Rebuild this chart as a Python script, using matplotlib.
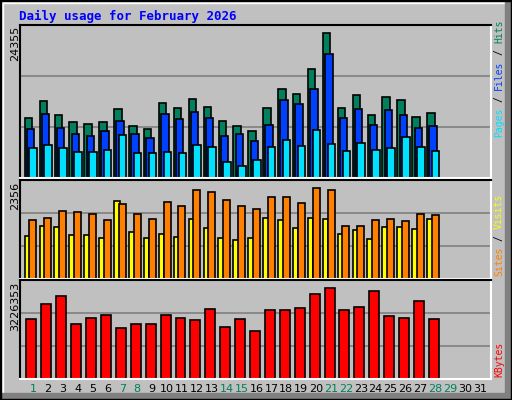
import matplotlib
matplotlib.use("Agg")
import matplotlib.pyplot as plt
from matplotlib.patches import Rectangle

days = list(range(1, 32))
ndata = 28
hits = [9770,12650,10250,9130,8810,9130,11370,8490,8010,12330,11530,12970,11690,9290,8490,7690,11530,14580,13780,17940,23700,11530,13610,10250,13290,12810,9930,10730]
files = [8010,10570,8170,7210,6890,7690,9290,7210,6570,10570,9610,10890,9770,6890,7210,6090,8650,12810,12170,14580,20340,9770,11370,8650,11210,10250,8170,8490]
pages = [4970,5450,4970,4330,4330,4650,7050,4170,4170,4330,4170,5450,5130,2560,1920,2880,5130,6250,5290,7850,5610,4490,5770,4650,4970,6730,5130,4490]
sites = [1071,1309,1285,1095,1095,1023,1928,1166,1023,1119,1047,1476,1261,1023,976,1023,1499,1452,1261,1499,1476,1119,1214,1000,1285,1285,1238,1476]
visits = [1452,1499,1690,1666,1618,1452,1856,1618,1476,1904,1809,2213,2142,1952,1809,1737,2023,2023,1880,2261,2213,1309,1309,1452,1476,1428,1618,1595]
kb_h = [62,78,86,57,63,67,53,57,57,67,63,61,73,54,62,50,72,72,74,88,95,72,75,92,66,63,81,62]
kbytes = [h * 32590 for h in kb_h]
max_hits, max_visits, max_kb = 24355, 2356, 3226353
weekend = {1,7,8,14,15,21,22,28,29}

W, H = 512, 400
fig = plt.figure(figsize=(W/100, H/100), dpi=100, facecolor="#c0c0c0")

def ax_px(x0, y0, x1, y1):
    return fig.add_axes([x0/W, 1-y1/H, (x1-x0)/W, (y1-y0)/H])

bg = fig.add_axes([0, 0, 1, 1]); bg.set_xlim(0, W); bg.set_ylim(H, 0); bg.axis("off")
bg.add_patch(Rectangle((0, 0), W, 3, color="white"))
bg.add_patch(Rectangle((0, 0), 3, H, color="white"))
bg.add_patch(Rectangle((505, 0), 7, H, color="#808080"))
bg.add_patch(Rectangle((0, 393), W, 7, color="#808080"))
bg.add_patch(Rectangle((0, 0), W, 1, color="black"))
bg.add_patch(Rectangle((0, 0), 1, H, color="black"))
bg.add_patch(Rectangle((W-1, 0), 1, H, color="black"))
bg.add_patch(Rectangle((0, H-1), W, 1, color="black"))
bg.text(19, 16, "Daily usage for February 2026", color="#0000ff", fontsize=9,
        fontweight="bold", family="DejaVu Sans Mono", va="center", ha="left")

xl = (0.133, 31.73)

def style(ax, ymax):
    ax.set_facecolor("#c0c0c0")
    ax.set_xlim(*xl); ax.set_ylim(0, ymax)
    ax.set_xticks([]); ax.set_yticks([])
    for s in ("top", "left"):
        ax.spines[s].set_color("black"); ax.spines[s].set_linewidth(1.5)
    for s in ("bottom", "right"):
        ax.spines[s].set_color("white"); ax.spines[s].set_linewidth(1.5)
    for f in (1/3, 2/3):
        ax.axhline(ymax*f, color="#808080", lw=1.2, zorder=0)

d = days[:ndata]
ek = dict(edgecolor="black", linewidth=1.2)

a1 = ax_px(20, 25, 491, 178); style(a1, max_hits*1.03)
a1.bar([x-0.3 for x in d], hits, width=0.5, color="#00805c", **ek)
a1.bar([x-0.15 for x in d], files, width=0.5, color="#0040ff", **ek)
a1.bar([x+0.02 for x in d], pages, width=0.5, color="#00e0ff", **ek)

a2 = ax_px(20, 180, 491, 279); style(a2, max_visits*1.04)
a2.bar([x-0.37 for x in d], sites, width=0.37, color="#ffff00", **ek)
a2.bar([x+0.0 for x in d], visits, width=0.47, color="#ff8000", **ek)

a3 = ax_px(20, 280, 491, 379); style(a3, max_kb*1.04)
a3.bar([x-0.1 for x in d], kbytes, width=0.67, color="#ff0000", **ek)

for y, lab in ((26, "24355"), (182, "2356"), (282, "3226353")):
    bg.text(15, y, lab, rotation=90, fontsize=8, va="top", ha="center")

for dd in days:
    bg.text(33 + (dd-1)*14.9, 389, str(dd), fontsize=8, ha="center", va="center",
            color="#00805c" if dd in weekend else "black")

def vlabel(parts, ybot, step=5.85):
    y = ybot
    for txt, col in parts:
        n = len(txt)
        s = txt.strip()
        lead = len(txt) - len(txt.lstrip())
        if s:
            bg.text(499, y - lead*step, s, rotation=90, color=col, fontsize=7,
                    family="DejaVu Sans Mono", ha="center", va="bottom")
        y -= n * step

vlabel([("Pages", "#00e0ff"), (" / ", "black"), ("Files", "#0040ff"), (" / ", "black"), ("Hits", "#00805c")], 137)
vlabel([("Sites", "#ff8000"), (" / ", "black"), ("Visits", "#ffff00")], 276)
vlabel([("KBytes", "#ff0000")], 377)

fig.savefig("out.png", dpi=100, facecolor=fig.get_facecolor())
